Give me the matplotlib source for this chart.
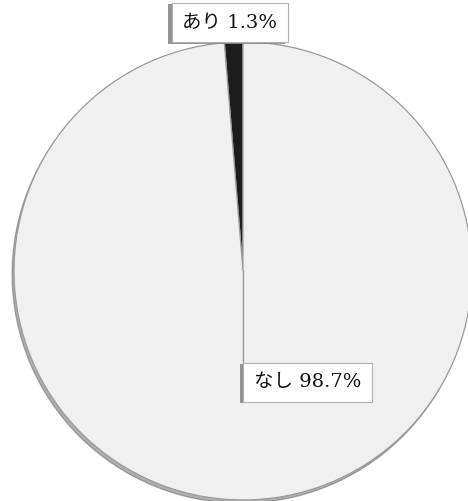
import matplotlib
matplotlib.use("Agg")
import matplotlib.pyplot as plt
import matplotlib.patheffects as pe
from matplotlib.transforms import offset_copy

categories = ["あり", "なし"]
values = [1.3, 98.7]
colors = ["#1c1c1c", "#f0f0f0"]

plt.rcParams['font.family'] = ['DejaVu Serif', 'Noto Sans CJK JP', 'DejaVu Sans']

W, H = 468, 501
fig = plt.figure(figsize=(W / 100, H / 100), dpi=100)
fig.patch.set_facecolor("white")

cx, cy, r = 243, 271, 229
ax = fig.add_axes([(cx - r) / W, (H - cy - r) / H, 2 * r / W, 2 * r / H])

wedges, _ = ax.pie(values, colors=colors, startangle=90, counterclock=True,
                   wedgeprops=dict(edgecolor="#9a9a9a", linewidth=0.9),
                   radius=1.0, shadow=dict(ox=-0.006, oy=-0.01, shade=0.6))
ax.set_xlim(-1, 1)
ax.set_ylim(-1, 1)
ax.set_aspect("equal")
ax.axis("off")
for p in ax.patches:
    p.set_clip_on(False)

labels = [f"{c} {v}%" for c, v in zip(categories, values)]
fs = 14
padf = 0.55
shadow = [pe.withSimplePatchShadow(offset=(-2.5, -1.0), shadow_rgbFace="#8a8a8a", alpha=0.9)]
bbox_kw = dict(boxstyle=f"square,pad={padf}", facecolor="white", edgecolor="#b0b0b0", linewidth=0.8)

t1 = ax.text(-0.057, 1.085, labels[0], ha="center", va="center", fontsize=fs,
             color="#111111", bbox=bbox_kw, clip_on=False)
t1.get_bbox_patch().set_path_effects(shadow)

# leader line from pie centre to the label box corner
box_y = -0.40
ax.plot([0.0, 0.0], [0.0, box_y], color="#9a9a9a", linewidth=1.0, clip_on=False, zorder=3)
tr = offset_copy(ax.transData, fig=fig, x=padf * fs, y=-padf * fs, units="points")
t2 = ax.text(0.0, box_y, labels[1], transform=tr, ha="left", va="top", fontsize=fs,
             color="#111111", bbox=bbox_kw, clip_on=False, zorder=4)
t2.get_bbox_patch().set_path_effects(shadow)

fig.savefig("out.png", dpi=100, facecolor="white")
